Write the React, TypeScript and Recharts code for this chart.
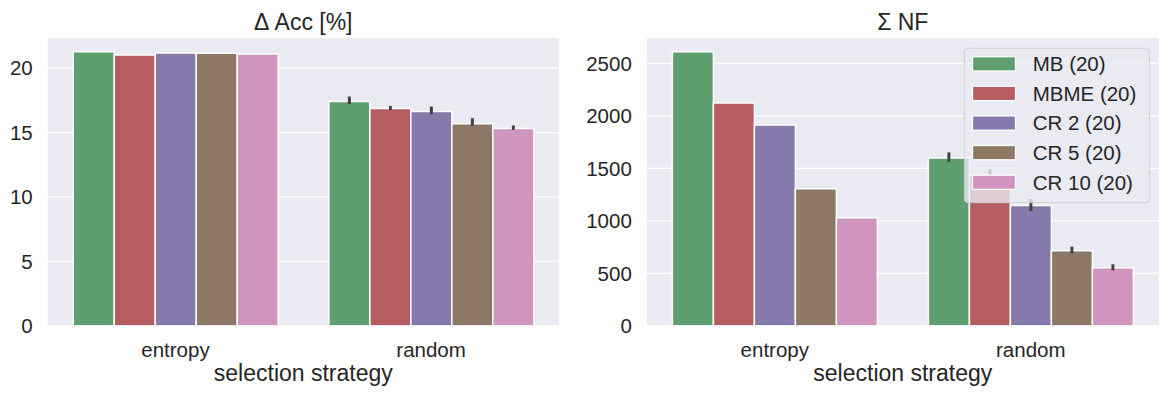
import React from 'react';
import { BarChart, Bar, XAxis, YAxis, CartesianGrid, ErrorBar } from 'recharts';

// categories on the x axis
const categories = ['entropy', 'random'];

// legend / series
const seriesNames = ['MB (20)', 'MBME (20)', 'CR 2 (20)', 'CR 5 (20)', 'CR 10 (20)'];
const seriesColors = ['#5F9E6E', '#B55D60', '#857AAB', '#8D7866', '#D095BF'];

// Δ Acc [%] per series: [entropy, random]
const accMB = [21.27, 17.41];
const accMBME = [21.03, 16.87];
const accCR2 = [21.19, 16.63];
const accCR5 = [21.17, 15.68];
const accCR10 = [21.11, 15.31];

// Δ Acc confidence intervals (random only)
const accMBCI = [null, [17.21, 17.8]];
const accMBMECI = [null, [16.76, 17.07]];
const accCR2CI = [null, [16.43, 17.02]];
const accCR5CI = [null, [15.52, 16.12]];
const accCR10CI = [null, [15.21, 15.55]];

// Σ NF per series: [entropy, random]
const nfMB = [2611, 1598];
const nfMBME = [2122, 1430];
const nfCR2 = [1913, 1145];
const nfCR5 = [1306, 715];
const nfCR10 = [1029, 553];

const nfMBCI = [null, [1563, 1652]];
const nfMBMECI = [null, [1370, 1490]];
const nfCR2CI = [null, [1093, 1207]];
const nfCR5CI = [null, [690, 753]];
const nfCR10CI = [null, [528, 585]];

const accTicks = [0, 5, 10, 15, 20];
const nfTicks = [0, 500, 1000, 1500, 2000, 2500];

const FONT = '"Liberation Sans", Arial, sans-serif';
const TEXT = '#262626';

type CI = (number[] | null)[];

function buildRows(values: number[][], cis: CI[]) {
  return categories.map((cat, i) => {
    const row: Record<string, any> = { cat };
    values.forEach((v, s) => {
      row[`s${s}`] = v[i];
      const c = cis[s][i];
      row[`e${s}`] = c ? [v[i] - c[0], c[1] - v[i]] : [0, 0];
    });
    return row;
  });
}

const accRows = buildRows(
  [accMB, accMBME, accCR2, accCR5, accCR10],
  [accMBCI, accMBMECI, accCR2CI, accCR5CI, accCR10CI]
);
const nfRows = buildRows(
  [nfMB, nfMBME, nfCR2, nfCR5, nfCR10],
  [nfMBCI, nfMBMECI, nfCR2CI, nfCR5CI, nfCR10CI]
);

interface PanelProps {
  rows: Array<Record<string, any>>;
  left: number;
  width: number;
  yWidth: number;
  marginRight: number;
  max: number;
  ticks: number[];
}

function Panel({ rows, left, width, yWidth, marginRight, max, ticks }: PanelProps) {
  return (
    <div style={{ position: 'absolute', left, top: 0 }}>
      <BarChart
        width={width}
        height={395}
        data={rows}
        margin={{ top: 37.7, right: marginRight, left: 0, bottom: 0 }}
        barCategoryGap="10%"
        barGap={0}
      >
        <CartesianGrid vertical={false} fill="#EAEAF2" fillOpacity={1} stroke="#ffffff" strokeWidth={1.3} />
        <XAxis
          dataKey="cat"
          tickLine={false}
          axisLine={false}
          height={69.3}
          tickSize={0}
          tickMargin={17}
          interval={0}
          tick={{ fontSize: 20.5, fill: TEXT, fontFamily: FONT }}
        />
        <YAxis
          type="number"
          domain={[0, max]}
          ticks={ticks}
          allowDataOverflow
          tickLine={false}
          axisLine={false}
          width={yWidth}
          tickSize={0}
          tickMargin={15}
          tick={{ fontSize: 20.5, fill: TEXT, fontFamily: FONT }}
        />
        {seriesNames.map((name, i) => (
          <Bar
            key={name}
            dataKey={`s${i}`}
            name={name}
            fill={seriesColors[i]}
            stroke="#ffffff"
            strokeWidth={1.5}
            isAnimationActive={false}
          >
            <ErrorBar dataKey={`e${i}`} width={0} stroke="#424242" strokeWidth={3} direction="y" />
          </Bar>
        ))}
      </BarChart>
    </div>
  );
}

function Overlay() {
  const rowY = (i: number) => 63.85 + i * 29.6;
  return (
    <svg
      width={1169}
      height={395}
      style={{ position: 'absolute', left: 0, top: 0, pointerEvents: 'none' }}
      fontFamily={FONT}
    >
      <text x={303.3} y={30} textAnchor="middle" fontSize={23} fill={TEXT}>Δ Acc [%]</text>
      <text x={902.8} y={30} textAnchor="middle" fontSize={23} fill={TEXT}>Σ NF</text>
      <text x={303.3} y={381} textAnchor="middle" fontSize={23} fill={TEXT}>selection strategy</text>
      <text x={902.8} y={381} textAnchor="middle" fontSize={23} fill={TEXT}>selection strategy</text>
      <rect
        x={964.3}
        y={48.3}
        width={185}
        height={154.4}
        rx={4}
        fill="rgba(234,234,242,0.8)"
        stroke="rgba(204,204,204,0.8)"
        strokeWidth={1}
      />
      {seriesNames.map((name, i) => (
        <g key={name}>
          <rect
            x={972.5}
            y={rowY(i) - 7.15}
            width={43}
            height={14.3}
            fill={seriesColors[i]}
            stroke="#ffffff"
            strokeWidth={1.3}
          />
          <text x={1032.7} y={rowY(i) + 7.3} fontSize={20.5} fill={TEXT}>{name}</text>
        </g>
      ))}
    </svg>
  );
}

export default function App() {
  return (
    <div style={{ position: 'absolute', left: 0, top: 0, width: 1169, height: 395, background: '#ffffff' }}>
      <Panel rows={accRows} left={0} width={575} yWidth={47.7} marginRight={16.1} max={22.37} ticks={accTicks} />
      <Panel rows={nfRows} left={580} width={589} yWidth={66.8} marginRight={10.2} max={2745} ticks={nfTicks} />
      <Overlay />
    </div>
  );
}
